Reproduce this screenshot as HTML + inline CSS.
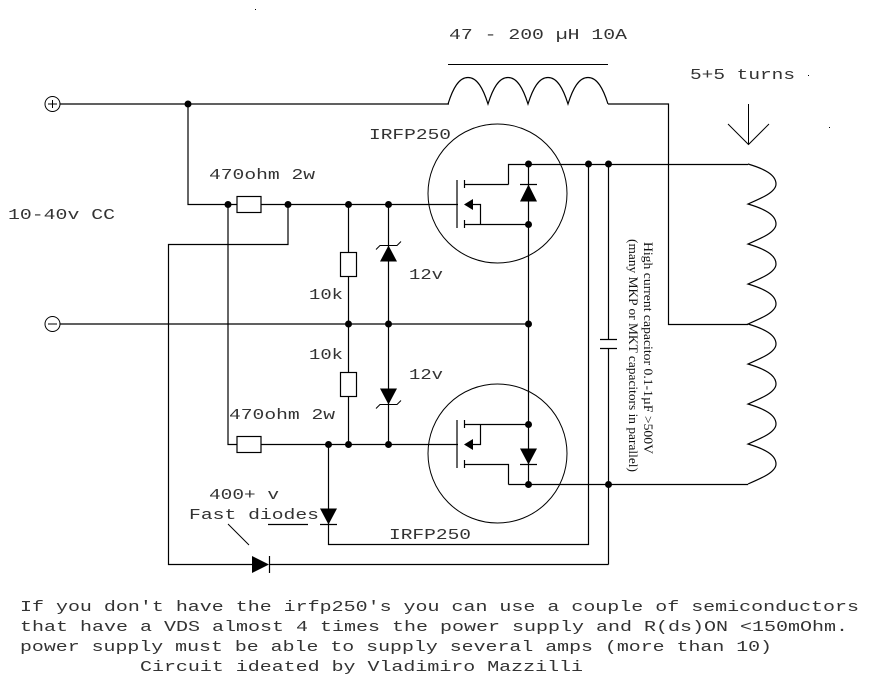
<!DOCTYPE html>
<html><head><meta charset="utf-8"><style>
html,body{margin:0;padding:0;background:#fff;width:883px;height:682px;overflow:hidden}
svg{display:block}
.t{font-family:"Liberation Mono",monospace;font-size:15px;fill:#333}
.s{font-family:"Liberation Serif",serif;font-size:13px;fill:#111}
</style></head><body>
<svg width="883" height="682" viewBox="0 0 883 682" xmlns="http://www.w3.org/2000/svg">
<rect width="883" height="682" fill="#fff"/>
<g fill="none" stroke="#000" stroke-width="1.2">
<!-- terminals -->
<circle cx="52.500" cy="104" r="7.500" stroke-width="1"/>
<path d="M48 104H57M52.500 100V108" stroke-width="1"/>
<circle cx="52.500" cy="324" r="7.500" stroke-width="1"/>
<path d="M48 324H57" stroke-width="1"/>
<!-- wires -->
<path d="M60 104H449"/>
<path d="M188 104V204.500H237M261 204.500H458"/>
<path d="M60 324H528"/>
<path d="M228 204.500V444.500H237M261 444.500H458"/>
<path d="M288 204.500V244.500H168.500V564.500H253M269 564.500H608.500"/>
<path d="M348.500 204.500V252M348.500 276V372M348.500 396V444.500"/>
<path d="M388.500 204.500V444.500"/>
<path d="M328.500 444.500V544.500H588.500V164"/>
<path d="M608.500 164V339M608.500 348V564.500"/>
<path d="M528.500 164V484.500"/>
<path d="M608 104H668.500V324.500H748"/>
<path d="M508.500 184.500V164.500H748"/>
<path d="M508.500 484.500H748"/>
<!-- top mosfet -->
<circle cx="497.500" cy="193.500" r="69.500" stroke-width="1"/>
<path d="M457 180V228M464.500 180V188M464.500 220V228"/>
<path d="M464.500 184.500H508.500M464.500 224.500H528M473 204.500H480.500V224.500"/>
<!-- bottom mosfet -->
<circle cx="497.500" cy="453.500" r="69.500" stroke-width="1"/>
<path d="M457 420V468M464.500 420V428M464.500 460V468"/>
<path d="M464.500 424.500H528M464.500 464.500H508.500V484.500M473 444.500H480.500V424.500"/>
<!-- body diode bars -->
<path d="M520 184.500H537M520 464.500H537"/>
<!-- resistors -->
<rect x="237" y="196.500" width="24" height="16" fill="#fff"/>
<rect x="237" y="436.500" width="24" height="16" fill="#fff"/>
<rect x="340.500" y="252.500" width="16" height="24" fill="#fff"/>
<rect x="340.500" y="372.500" width="16" height="24" fill="#fff"/>
<!-- capacitor -->
<path d="M600 339.500H617M600 348.500H617"/>
<!-- zeners -->
<path d="M376 249.500L380 245.500H397L401 241.500" stroke-width="1"/>
<path d="M376 408.500L380 404.500H397L401 400.500" stroke-width="1"/>
<!-- fast diodes -->
<path d="M320 524.500H337M269.500 556V573"/>
<path d="M268 524.500H308" />
<path d="M228 524L249 545" stroke-width="1"/>
<!-- inductor top -->
<path d="M448 64.500H608" stroke-width="1"/>
<path d="M448 104C453 88 459 77.500 468 77.500C477 77.500 483 88 488 104C493 88 499 77.500 508 77.500C517 77.500 523 88 528 104C533 88 539 77.500 548 77.500C557 77.500 563 88 568 104C573 88 579 77.500 588 77.500C597 77.500 603 88 608 104"/>
<!-- right coil -->
<path d="M748 164C765 169 776 175 776 184C776 192 762 198 748 204C765 209 776 215 776 224C776 232 762 238 748 244C765 249 776 255 776 264C776 272 762 278 748 284C765 289 776 295 776 304C776 312 762 318 748 324C765 329 776 335 776 344C776 352 762 358 748 364C765 369 776 375 776 384C776 392 762 398 748 404C765 409 776 415 776 424C776 432 762 438 748 444C765 449 776 455 776 464C776 472 762 478 748 484"/>
<!-- arrow -->
<path d="M748.500 104V144M728 124L748.500 144.500L769 124" stroke-width="1"/>
</g>
<g fill="#000">
<!-- body diodes -->
<path d="M528.500 184.500L537 201.500H520Z"/>
<path d="M528.500 464.500L537 448.500H520Z"/>
<!-- mosfet arrows -->
<path d="M464 204.500L473 199V210Z"/>
<path d="M464 444.500L473 439V450Z"/>
<!-- zeners -->
<path d="M388.500 245.500L397 261.500H380Z"/>
<path d="M388.500 404.500L397 388.500H380Z"/>
<!-- fast diodes -->
<path d="M328.500 524.500L337 508.500H320Z"/>
<path d="M269 564.500L252 556V573Z"/>
<!-- junctions -->
<circle cx="188" cy="104" r="3.500"/>
<circle cx="228" cy="204.500" r="3.500"/>
<circle cx="288" cy="204.500" r="3.500"/>
<circle cx="348.500" cy="204.500" r="3.500"/>
<circle cx="388.500" cy="204.500" r="3.500"/>
<circle cx="348.500" cy="324" r="3.500"/>
<circle cx="388.500" cy="324" r="3.500"/>
<circle cx="528.500" cy="324" r="3.500"/>
<circle cx="348.500" cy="444.500" r="3.500"/>
<circle cx="388.500" cy="444.500" r="3.500"/>
<circle cx="328.500" cy="444.500" r="3.500"/>
<circle cx="528.500" cy="164" r="3.500"/>
<circle cx="588.500" cy="164" r="3.500"/>
<circle cx="608.500" cy="164" r="3.500"/>
<circle cx="528.500" cy="224.500" r="3.500"/>
<circle cx="528.500" cy="424.500" r="3.500"/>
<circle cx="528.500" cy="484.500" r="3.500"/>
<circle cx="608.500" cy="484.500" r="3.500"/>
<!-- specks -->
<rect x="255" y="9" width="1" height="1"/>
<rect x="808" y="75" width="1" height="1"/>
<rect x="829" y="127" width="1" height="1"/>
</g>
<g>
<text class="t" x="449" y="39" textLength="178" lengthAdjust="spacingAndGlyphs">47 - 200 µH 10A</text>
<text class="t" x="690" y="79" textLength="105" lengthAdjust="spacingAndGlyphs">5+5 turns</text>
<text class="t" x="369" y="139" textLength="82" lengthAdjust="spacingAndGlyphs">IRFP250</text>
<text class="t" x="8" y="219" textLength="107" lengthAdjust="spacingAndGlyphs">10-40v CC</text>
<text class="t" x="209" y="179" textLength="106" lengthAdjust="spacingAndGlyphs">470ohm 2w</text>
<text class="t" x="409" y="279" textLength="34" lengthAdjust="spacingAndGlyphs">12v</text>
<text class="t" x="409" y="379" textLength="34" lengthAdjust="spacingAndGlyphs">12v</text>
<text class="t" x="309" y="299" textLength="34" lengthAdjust="spacingAndGlyphs">10k</text>
<text class="t" x="309" y="359" textLength="34" lengthAdjust="spacingAndGlyphs">10k</text>
<text class="t" x="229" y="419" textLength="106" lengthAdjust="spacingAndGlyphs">470ohm 2w</text>
<text class="t" x="209" y="499" textLength="70" lengthAdjust="spacingAndGlyphs">400+ v</text>
<text class="t" x="189" y="519" textLength="130" lengthAdjust="spacingAndGlyphs">Fast diodes</text>
<text class="t" x="389" y="539" textLength="82" lengthAdjust="spacingAndGlyphs">IRFP250</text>
<text class="t" x="20" y="611" textLength="839" lengthAdjust="spacingAndGlyphs">If you don't have the irfp250's you can use a couple of semiconductors</text>
<text class="t" x="20" y="631" textLength="828" lengthAdjust="spacingAndGlyphs">that have a VDS almost 4 times the power supply and R(ds)ON &lt;150mOhm.</text>
<text class="t" x="20" y="651" textLength="752" lengthAdjust="spacingAndGlyphs">power supply must be able to supply several amps (more than 10)</text>
<text class="t" x="140" y="671" textLength="443" lengthAdjust="spacingAndGlyphs">Circuit ideated by Vladimiro Mazzilli</text>
<text class="s" transform="translate(644 242) rotate(90)" textLength="212" lengthAdjust="spacingAndGlyphs">High current capacitor 0.1-1µF &gt;500V</text>
<text class="s" transform="translate(629 239) rotate(90)" textLength="233" lengthAdjust="spacingAndGlyphs">(many MKP or MKT capacitors in parallel)</text>
</g>
</svg>
</body></html>
